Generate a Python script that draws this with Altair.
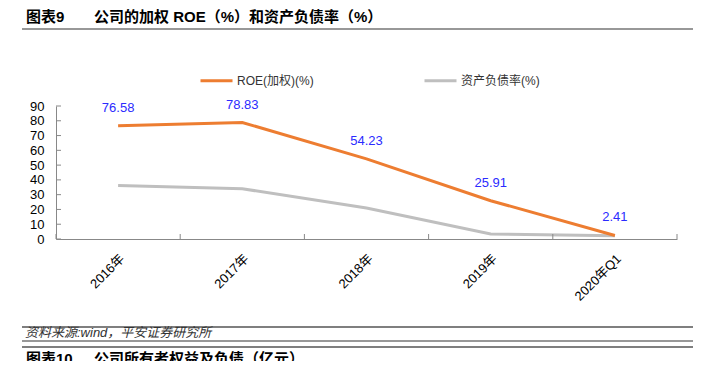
import altair as alt
import pandas as pd

categories = ["2016年", "2017年", "2018年", "2019年", "2020年Q1"]
roe = [76.58, 78.83, 54.23, 25.91, 2.41]
debt_ratio = [36.2, 34.0, 21.0, 3.4, 2.2]
series_names = ["ROE(加权)(%)", "资产负债率(%)"]
y_ticks = [0, 10, 20, 30, 40, 50, 60, 70, 80, 90]

FONT = "Liberation Sans, Noto Sans CJK SC, sans-serif"
ORANGE = "#ed7d31"
GRAY = "#bfbfbf"

df_roe = pd.DataFrame({"cat": categories, "value": roe, "series": series_names[0]})
df_debt = pd.DataFrame({"cat": categories, "value": debt_ratio, "series": series_names[1]})
df_ticks = pd.DataFrame({"value": y_ticks})
df_cats = pd.DataFrame({"cat": categories})
df_last = pd.DataFrame({"cat": categories[-1:]})
one = pd.DataFrame({"a": [0]})

xscale = alt.Scale(domain=categories, paddingInner=0, paddingOuter=0)
yscale = alt.Scale(domain=[0, 90], nice=False)
cscale = alt.Scale(domain=series_names, range=[ORANGE, GRAY])

x_axis = alt.Axis(labelAngle=-45, labelAlign="right", labelBaseline="top",
                  labelPadding=13, labelFontSize=13, labelColor="#000",
                  labelFont=FONT, ticks=False, domainColor="#888", grid=False)
y_axis = alt.Axis(values=y_ticks, labelFontSize=13, labelColor="#000",
                  labelFont=FONT, ticks=False, labelPadding=12,
                  domainColor="#888", grid=False)


def xe(band=0.5):
    return alt.X("cat:N", scale=xscale, sort=categories, title=None, axis=x_axis,
                 bandPosition=band)


ye = alt.Y("value:Q", scale=yscale, title=None, axis=y_axis)

legend = alt.Legend(orient="none", legendX=143, legendY=-43, direction="horizontal",
                    title=None, symbolType="stroke", symbolSize=1024,
                    symbolStrokeWidth=3, labelFontSize=12, labelFont=FONT,
                    labelColor="#333", columnPadding=104, labelOffset=3, padding=0)

debt_line = alt.Chart(df_debt).mark_line(strokeWidth=3).encode(
    x=xe(), y=ye,
    color=alt.Color("series:N", scale=cscale, legend=legend),
)
roe_line = alt.Chart(df_roe).mark_line(strokeWidth=3).encode(
    x=xe(), y=ye,
    color=alt.Color("series:N", scale=cscale, legend=legend),
)
roe_labels = alt.Chart(df_roe).mark_text(dy=-18, fontSize=13, font=FONT,
                                         color="#2b2bff").encode(
    x=xe(), y=ye,
    text=alt.Text("value:Q", format=".2f"),
)

# inward y ticks
ytick_marks = alt.Chart(df_ticks).mark_rule(color="#888", strokeWidth=1).encode(
    y=ye, x=alt.value(0), x2=alt.value(5),
)

# inward x ticks at band boundaries
xtick_marks = alt.Chart(df_cats).mark_rule(color="#888", strokeWidth=1).encode(
    x=xe(0), y=alt.value(128), y2=alt.value(133),
)
xtick_last = alt.Chart(df_last).mark_rule(color="#888", strokeWidth=1).encode(
    x=xe(1), y=alt.value(128), y2=alt.value(133),
)


def rule(x1, x2, y, color, w):
    return alt.Chart(one).mark_rule(color=color, strokeWidth=w).encode(
        x=alt.value(x1), x2=alt.value(x2), y=alt.value(y))


def text(x, y, s, size, weight="normal", style="normal", color="#000"):
    return alt.Chart(one).mark_text(text=s, align="left", baseline="middle",
                                    fontSize=size, fontWeight=weight, fontStyle=style,
                                    font=FONT, color=color).encode(
        x=alt.value(x), y=alt.value(y))


decor = [
    rule(-34, 637, -101, "#7f7f7f", 2),
    rule(-34, 637, -77, "#333", 1.2),
    text(-30, -89, "图表9", 15, "bold"),
    text(38, -89, "公司的加权 ROE（%）和资产负债率（%）", 15, "bold"),
    rule(-34, 637, 221, "#7f7f7f", 2),
    text(-31, 227, "资料来源:wind，平安证券研究所", 13, style="italic", color="#333"),
    rule(-34, 637, 235, "#333", 1.2),
    rule(-34, 637, 241, "#7f7f7f", 2),
    text(-30, 253, "图表10", 15, "bold"),
    text(38, 253, "公司所有者权益及负债（亿元）", 15, "bold"),
]

chart = alt.layer(
    debt_line, roe_line, roe_labels, ytick_marks, xtick_marks, xtick_last, *decor
).properties(
    width=621, height=133,
    autosize=alt.AutoSizeParams(type="none"),
    padding={"left": 48, "top": 98, "right": 28, "bottom": 122},
).configure(font=FONT).configure_view(stroke=None)

chart.save("out.html", embed_options={"renderer": "svg", "actions": False})
